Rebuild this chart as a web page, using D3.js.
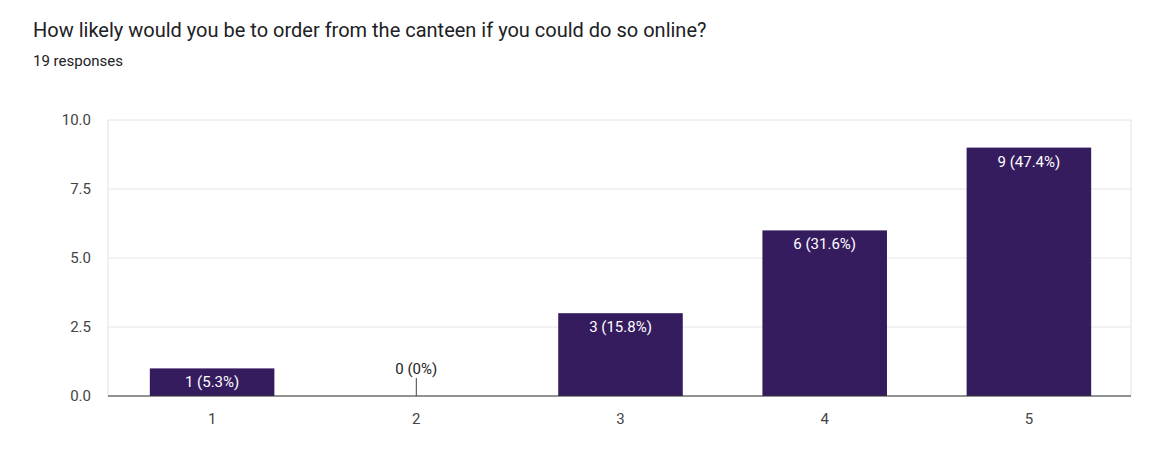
<!DOCTYPE html>
<html><head><meta charset="utf-8">
<script src="https://cdn.jsdelivr.net/npm/d3@7"></script>
<style>body{margin:0;background:#fff;font-family:Roboto,Arial,sans-serif}</style>
</head><body><svg id="c" width="1171" height="458"></svg>
<script>
const categories=["1","2","3","4","5"];
const values=[1,0,3,6,9];
const labels=["1 (5.3%)","0 (0%)","3 (15.8%)","6 (31.6%)","9 (47.4%)"];
const yTicks=[0,2.5,5,7.5,10];
const svg=d3.select("#c");
svg.append("text").attr("x",33).attr("y",37).attr("font-size",20).attr("fill","#202124").text("How likely would you be to order from the canteen if you could do so online?");
svg.append("text").attr("x",33).attr("y",66).attr("font-size",15).attr("fill","#202124").text("19 responses");
const x=d3.scaleBand().domain(categories).range([110,1131]).paddingInner(0.39).paddingOuter(0.195);
const y=d3.scaleLinear().domain([0,10]).range([396,120]);
svg.append("line").attr("x1",108).attr("x2",108).attr("y1",120).attr("y2",396).attr("stroke","#e0e0e0");
svg.append("line").attr("x1",1131).attr("x2",1131).attr("y1",120).attr("y2",396).attr("stroke","#e0e0e0");
svg.selectAll(".g").data(yTicks).join("line").attr("x1",108).attr("x2",1131).attr("y1",d=>y(d)).attr("y2",d=>y(d)).attr("stroke","#e6e6e6");
svg.selectAll(".yl").data(yTicks).join("text").attr("x",91).attr("y",d=>y(d)+5).attr("text-anchor","end").attr("font-size",15).attr("fill","#444").text(d=>d.toFixed(1));
svg.selectAll(".b").data(values).join("rect").attr("x",(d,i)=>x(categories[i])).attr("width",x.bandwidth()).attr("y",d=>y(d)).attr("height",d=>396-y(d)).attr("fill","#351c5f");
svg.append("line").attr("x1",108).attr("x2",1131).attr("y1",396).attr("y2",396).attr("stroke","#333");
values.forEach((v,i)=>{
  const cx=x(categories[i])+x.bandwidth()/2;
  if(v===0){
    svg.append("line").attr("x1",cx).attr("x2",cx).attr("y1",378).attr("y2",396).attr("stroke","#444");
    svg.append("text").attr("x",cx).attr("y",374).attr("text-anchor","middle").attr("font-size",15).attr("fill","#222").text(labels[i]);
  } else {
    svg.append("text").attr("x",cx).attr("y",y(v)+19).attr("text-anchor","middle").attr("font-size",15).attr("fill","#fff").text(labels[i]);
  }
  svg.append("text").attr("x",cx).attr("y",424).attr("text-anchor","middle").attr("font-size",15).attr("fill","#444").text(categories[i]);
});
</script></body></html>
